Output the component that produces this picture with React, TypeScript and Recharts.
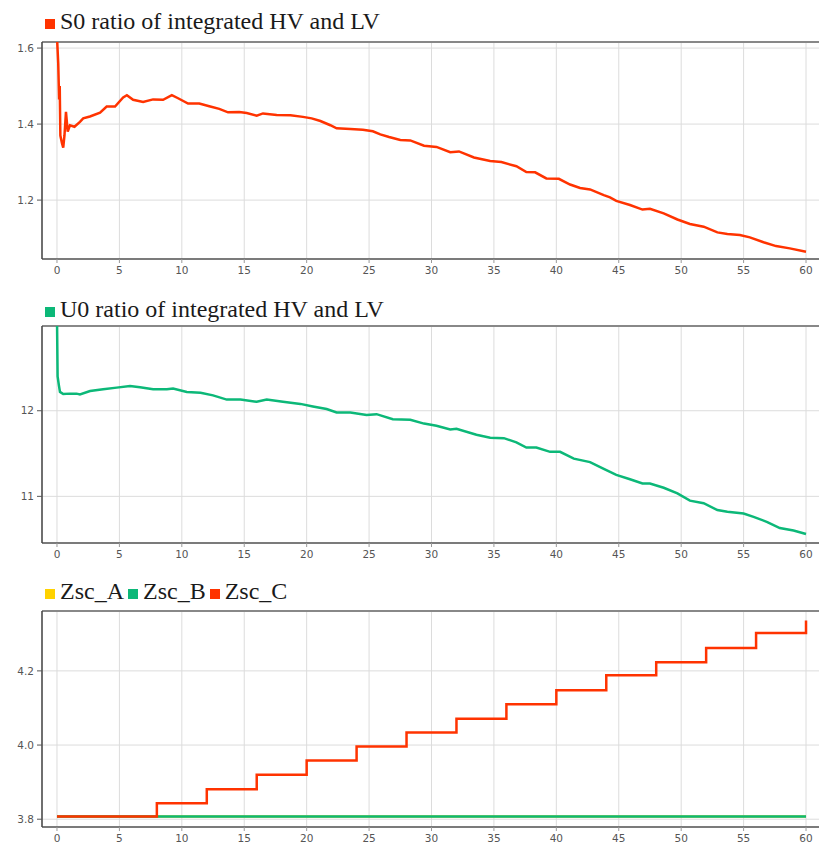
import { LineChart, Line, XAxis, YAxis, CartesianGrid, ReferenceLine } from 'recharts'

// x axis (shared by all three panels)
const timeTicks = [0, 5, 10, 15, 20, 25, 30, 35, 40, 45, 50, 55, 60]

// panel 1: S0 ratio
const s0Title = 'S0 ratio of integrated HV and LV'
const s0Time = [
  0, 0.1, 0.17, 0.22, 0.27, 0.4, 0.5, 0.6, 0.72, 0.86, 1.04, 1.4, 1.84, 2.1, 2.64, 3.45, 3.98, 4.65,
  5.3, 5.6, 6.1, 6.9, 7.7, 8.5, 9.2, 9.7, 10.5, 11.4, 12.2, 13.0, 13.7, 14.6, 15.2, 16.0, 16.5, 17.6,
  18.7, 19.7, 20.4, 21.1, 21.9, 22.4, 23.5, 24.5, 25.3, 25.9, 26.6, 27.5, 28.3, 29.4, 30.4, 31.5,
  32.2, 33.4, 34.7, 35.6, 36.8, 37.6, 38.3, 39.2, 40.2, 41.1, 41.9, 42.7, 43.8, 44.3, 44.8, 45.9,
  46.9, 47.5, 48.6, 49.7, 50.7, 51.8, 52.9, 53.7, 54.7, 55.5, 56.6, 57.6, 58.7, 60,
]
const s0Values = [
  1.63, 1.56, 1.465, 1.5, 1.37, 1.35, 1.338, 1.37, 1.432, 1.38, 1.397, 1.393, 1.406, 1.415, 1.42,
  1.43, 1.446, 1.446, 1.47, 1.476, 1.464, 1.458, 1.465, 1.464, 1.476, 1.468, 1.454, 1.454, 1.447,
  1.44, 1.431, 1.432, 1.429, 1.422, 1.428, 1.424, 1.423, 1.419, 1.415, 1.408, 1.397, 1.389, 1.387,
  1.385, 1.381, 1.373, 1.366, 1.358, 1.357, 1.343, 1.34, 1.326, 1.328, 1.312, 1.303, 1.3, 1.289,
  1.274, 1.273, 1.257, 1.256, 1.241, 1.232, 1.228, 1.213, 1.207, 1.198, 1.187, 1.175, 1.177, 1.165,
  1.149, 1.137, 1.13, 1.115, 1.111, 1.108, 1.102, 1.089, 1.079, 1.073, 1.064,
]
const s0Ticks = [1.2, 1.4, 1.6]

// panel 2: U0 ratio
const u0Title = 'U0 ratio of integrated HV and LV'
const u0Time = [
  0, 0.05, 0.15, 0.24, 0.5, 1.04, 1.57, 1.84, 2.65, 3.7, 4.78, 5.85, 6.65, 7.7, 8.8, 9.3, 10.4, 11.5,
  12.5, 13.6, 14.7, 16.0, 16.8, 18.1, 19.5, 20.5, 21.6, 22.4, 23.5, 24.8, 25.6, 26.9, 28.3, 29.4,
  30.4, 31.5, 32.0, 33.6, 34.7, 35.8, 36.8, 37.6, 38.4, 39.5, 40.3, 41.4, 42.7, 43.8, 44.8, 45.9,
  46.9, 47.5, 48.6, 49.7, 50.7, 51.8, 52.9, 53.7, 55.0, 55.8, 56.9, 57.9, 59.0, 60,
]
const u0Values = [
  13.1, 12.4, 12.3, 12.22, 12.195, 12.2, 12.2, 12.19, 12.23, 12.25, 12.27, 12.29, 12.275, 12.25,
  12.25, 12.26, 12.22, 12.21, 12.18, 12.13, 12.13, 12.105, 12.13, 12.105, 12.08, 12.05, 12.02,
  11.98, 11.98, 11.95, 11.96, 11.9, 11.895, 11.85, 11.825, 11.78, 11.79, 11.72, 11.685, 11.68,
  11.63, 11.57, 11.57, 11.52, 11.52, 11.44, 11.4, 11.32, 11.25, 11.2, 11.15, 11.15, 11.1, 11.035,
  10.95, 10.92, 10.84, 10.82, 10.8, 10.76, 10.7, 10.63, 10.6, 10.56,
]
const u0Ticks = [11, 12]

// panel 3: Zsc step lines
const zscNames = ['Zsc_A', 'Zsc_B', 'Zsc_C']
const zscTime = [0, 8, 12, 16, 20, 24, 28, 32, 36, 40, 44, 48, 52, 56, 60]
const zscA = [3.807, 3.807, 3.807, 3.807, 3.807, 3.807, 3.807, 3.807, 3.807, 3.807, 3.807, 3.807, 3.807, 3.807, 3.807]
const zscB = [3.807, 3.807, 3.807, 3.807, 3.807, 3.807, 3.807, 3.807, 3.807, 3.807, 3.807, 3.807, 3.807, 3.807, 3.807]
const zscC = [3.807, 3.843, 3.881, 3.92, 3.958, 3.996, 4.034, 4.071, 4.11, 4.148, 4.188, 4.223, 4.262, 4.302, 4.336]
const zscTicks = [3.8, 4.0, 4.2]

const RED = '#ff3300'
const GREEN = '#0cb878'
const YELLOW = '#ffd200'

const s0Data = s0Time.map((t, i) => ({ t, v: s0Values[i] }))
const u0Data = u0Time.map((t, i) => ({ t, v: u0Values[i] }))
const zscData = zscTime.map((t, i) => ({ t, a: zscA[i], b: zscB[i], c: zscC[i] }))

const X_DOMAIN: [number, number] = [-1.2, 61.2]
const tickStyle = { fill: '#555', fontSize: 10.5, fontFamily: 'DejaVu Sans' }

function Title({ items, top }: { items: { name: string; color: string }[]; top: number }) {
  return (
    <div
      style={{
        position: 'absolute',
        left: 45,
        top,
        fontFamily: '"Liberation Serif", serif',
        fontSize: 24,
        lineHeight: '26px',
        color: '#1a1a1a',
        whiteSpace: 'nowrap',
      }}
    >
      {items.map((it) => (
        <span key={it.name} style={{ marginRight: 4 }}>
          <span
            style={{
              display: 'inline-block',
              width: 10,
              height: 10,
              background: it.color,
              marginRight: 5,
            }}
          />
          {it.name}
        </span>
      ))}
    </div>
  )
}

function Panel({
  top,
  height,
  marginTop,
  xHeight,
  yDomain,
  yTicks,
  fmt,
  data,
  children,
}: {
  top: number
  height: number
  marginTop: number
  xHeight: number
  yDomain: [number, number]
  yTicks: number[]
  fmt: (v: number) => string
  data: any[]
  children: any
}) {
  return (
    <div style={{ position: 'absolute', left: 0, top }}>
      <LineChart width={830} height={height} data={data} margin={{ top: marginTop, right: 9, bottom: 0, left: 0 }}>
        <CartesianGrid stroke="#dcdcdc" strokeWidth={1} />
        <XAxis
          dataKey="t"
          type="number"
          domain={X_DOMAIN}
          ticks={timeTicks}
          allowDataOverflow
          height={xHeight}
          tick={tickStyle}
          tickSize={4}
          tickMargin={4}
          tickLine={{ stroke: '#999' }}
          axisLine={{ stroke: '#555', strokeWidth: 1.5 }}
        />
        <YAxis
          type="number"
          domain={yDomain}
          ticks={yTicks}
          allowDataOverflow
          width={42}
          tick={tickStyle}
          tickSize={5}
          tickMargin={3}
          tickFormatter={fmt}
          tickLine={{ stroke: '#555' }}
          axisLine={{ stroke: '#444', strokeWidth: 1.5 }}
        />
        <ReferenceLine y={yDomain[1]} stroke="#888" strokeWidth={2} />
        {children}
      </LineChart>
    </div>
  )
}

export default function App() {
  return (
    <div style={{ position: 'absolute', left: 0, top: 0, width: 819, height: 850, overflow: 'hidden', background: '#fff' }}>
      <Panel top={0} height={285} marginTop={42} xHeight={26} yDomain={[1.045, 1.616]} yTicks={s0Ticks} fmt={(v) => v.toFixed(1)} data={s0Data}>
        <Line dataKey="v" stroke={RED} strokeWidth={2.5} dot={false} isAnimationActive={false} />
      </Panel>
      <Title items={[{ name: s0Title, color: RED }]} top={8} />

      <Panel top={288} height={282} marginTop={38} xHeight={27} yDomain={[10.455, 12.99]} yTicks={u0Ticks} fmt={(v) => String(v)} data={u0Data}>
        <Line dataKey="v" stroke={GREEN} strokeWidth={2.5} dot={false} isAnimationActive={false} />
      </Panel>
      <Title items={[{ name: u0Title, color: GREEN }]} top={296} />

      <Panel top={570} height={280} marginTop={41} xHeight={23} yDomain={[3.779, 4.3615]} yTicks={zscTicks} fmt={(v) => v.toFixed(1)} data={zscData}>
        <Line type="stepAfter" dataKey="a" stroke={YELLOW} strokeWidth={2.5} dot={false} isAnimationActive={false} />
        <Line type="stepAfter" dataKey="b" stroke={GREEN} strokeWidth={2.5} dot={false} isAnimationActive={false} />
        <Line type="stepAfter" dataKey="c" stroke={RED} strokeWidth={2.5} dot={false} isAnimationActive={false} />
      </Panel>
      <Title
        items={[
          { name: zscNames[0], color: YELLOW },
          { name: zscNames[1], color: GREEN },
          { name: zscNames[2], color: RED },
        ]}
        top={578}
      />
    </div>
  )
}
